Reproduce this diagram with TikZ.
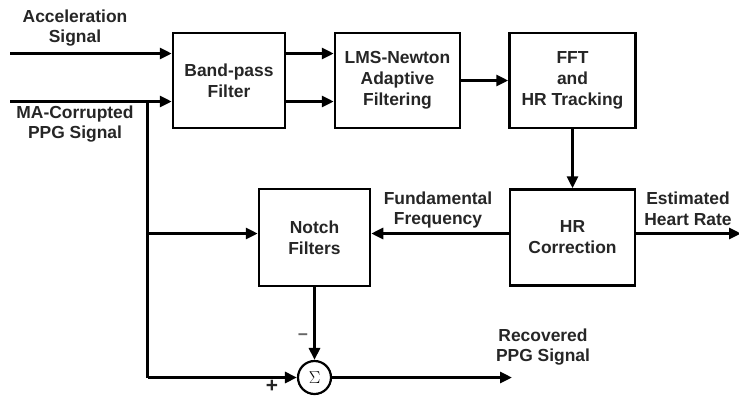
\documentclass[tikz,border=0pt]{standalone}
\usepackage{fontspec}
\setmainfont{Liberation Sans}
\usetikzlibrary{arrows.meta}
\begin{document}
\begin{tikzpicture}[x=1bp,y=-1bp,
  txt/.style={font=\fontsize{17.5}{21}\selectfont\bfseries, align=center, inner sep=0pt, text=black!85},
  block/.style={draw, line width=2.5bp, fill=white, txt},
  wire/.style={line width=3bp},
  arr/.style={wire, -{Triangle[length=12bp,width=11bp]}},
  sumnode/.style={draw, circle, line width=2.2bp, minimum size=33bp, inner sep=0pt, font=\fontsize{17}{17}\selectfont}
]
\useasboundingbox[fill=white] (0,0) rectangle (739,396);

% processing blocks
\node[block, minimum width=112bp, minimum height=95bp] (bpf) at (229,80.5) {Band-pass\\Filter};
\node[block, minimum width=125bp, minimum height=95bp] (lms) at (397.5,80.5) {LMS-Newton\\Adaptive\\Filtering};
\node[block, minimum width=126bp, minimum height=95bp] (fft) at (572.5,80.5) {FFT\\and\\HR Tracking};
\node[block, minimum width=125bp, minimum height=96bp] (hr) at (572.5,237.5) {HR\\Correction};
\node[block, minimum width=111bp, minimum height=97bp] (notch) at (314.5,237.5) {Notch\\Filters};
\node[sumnode] (sum) at (314.5,377.5) {$\Sigma$};

% signal labels
\node[txt] (lacc) at (75,28) {Acceleration\\Signal};
\node[txt] (lppg) at (75,124) {MA-Corrupted\\PPG Signal};
\node[txt] (lff) at (438,210) {Fundamental\\Frequency};
\node[txt] (lhr) at (688,209) {Estimated\\Heart Rate};
\node[txt] (lrec) at (543,347) {Recovered\\PPG Signal};
\node[txt, text=black!60] (lminus) at (303,337) {\textminus};
\node[txt, font=\fontsize{21}{21}\selectfont\bfseries] (lplus) at (272,386) {+};

% free ends and bends
\coordinate (accin) at (10,53.5);
\coordinate (ppgin) at (10,101.5);
\coordinate (tap) at (147.5,101.5);
\coordinate (mid) at (147.5,233.5);
\coordinate (corner) at (147.5,377.5);
\coordinate (hrout) at (741,233.5);
\coordinate (recout) at (512,377.5);

% connectors
\draw[arr] (accin) -- (accin -| bpf.west);
\draw[arr] (ppgin) -- (ppgin -| bpf.west);
\draw[arr] ([yshift=27bp]bpf.east) -- ([yshift=27bp]lms.west);
\draw[arr] ([yshift=-21bp]bpf.east) -- ([yshift=-21bp]lms.west);
\draw[arr] (lms.east) -- (lms.east -| fft.west);
\draw[arr] (fft.south) -- (hr.north);
\draw[arr] (hr.west |- mid) -- (notch.east |- mid);
\draw[arr] (hr.east |- mid) -- (hrout);
\draw[wire] (tap) -- (corner);
\draw[arr] (mid) -- (mid -| notch.west);
\draw[arr] (corner) -- (sum.west);
\draw[arr] (notch.south) -- (sum.north);
\draw[arr] (sum.east) -- (recout);
\end{tikzpicture}
\end{document}
